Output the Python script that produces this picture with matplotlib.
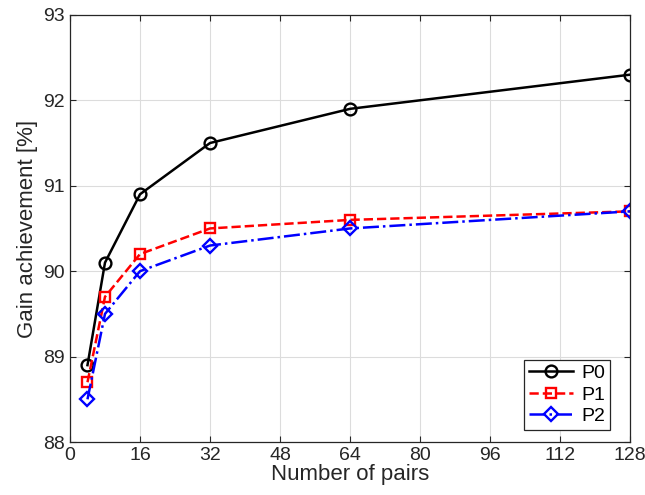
import matplotlib
matplotlib.use('Agg')
import matplotlib.pyplot as plt

plt.rcParams['font.family'] = ['Liberation Sans', 'DejaVu Sans']

pairs = [4, 8, 16, 32, 64, 128]
p0 = [88.9, 90.1, 90.9, 91.5, 91.9, 92.3]
p1 = [88.7, 89.7, 90.2, 90.5, 90.6, 90.7]
p2 = [88.5, 89.5, 90.0, 90.3, 90.5, 90.7]

fig = plt.figure(figsize=(6.45, 4.95), dpi=100)
ax = fig.add_axes([0.1085, 0.107, 0.8685, 0.863])

ax.plot(pairs, p0, '-', color='black', marker='o', ms=8.5, mfc='none', mew=1.7, lw=1.8, label='P0')
ax.plot(pairs, p1, '--', color='red', marker='s', ms=7, mfc='none', mew=1.7, lw=1.8, label='P1')
ax.plot(pairs, p2, '-.', color='blue', marker='D', ms=7.5, mfc='none', mew=1.7, lw=1.8, label='P2')

ax.set_xlim(0, 128)
ax.set_ylim(88, 93)
ax.set_xticks(range(0, 129, 16))
ax.set_yticks(range(88, 94))
ax.grid(True, color='#dcdcdc', lw=0.8)
ax.set_axisbelow(True)
ax.tick_params(direction='in', labelsize=14, color='#262626', labelcolor='#262626',
               length=4, top=True, right=True)
for s in ax.spines.values():
    s.set_color('#262626')
    s.set_linewidth(0.9)

ax.set_xlabel('Number of pairs', fontsize=16, color='#262626', labelpad=0)
ax.set_ylabel('Gain achievement [%]', fontsize=16, color='#262626', labelpad=4)

leg = ax.legend(loc='lower right', fontsize=14, fancybox=False, edgecolor='#262626',
                framealpha=1, borderpad=0.25, handlelength=2.3, handletextpad=0.4,
                labelspacing=0.2, borderaxespad=0, bbox_to_anchor=(0.964, 0.028))
leg.get_frame().set_linewidth(0.9)

fig.savefig('out.png', dpi=100)
